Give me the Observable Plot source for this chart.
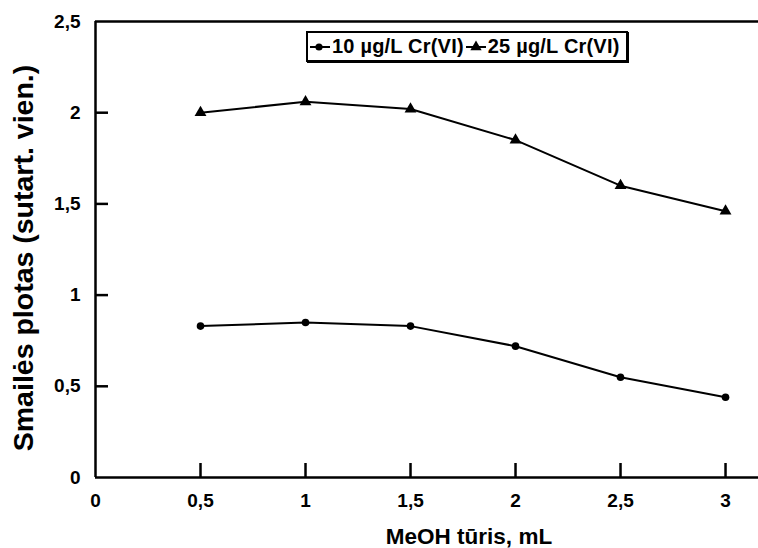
<!DOCTYPE html>
<html>
<head>
<meta charset="utf-8">
<script src="https://cdn.jsdelivr.net/npm/d3@7"></script>
<script src="https://cdn.jsdelivr.net/npm/@observablehq/plot@0.6"></script>
<style>
  html, body { margin: 0; padding: 0; background: #fff; }
  #wrap { position: relative; width: 758px; height: 548px; font-family: "Liberation Sans", Arial, sans-serif; }
  #legend { position: absolute; left: 306px; top: 31px; width: 318px; height: 27px;
            border: 2px solid #000; box-shadow: 1px 1px 0 #000; background: #fff;
            display: flex; align-items: center; font-weight: bold; font-size: 20px; letter-spacing: 0.2px; color: #000; white-space: nowrap; }
  #legend svg { display: block; }
  .ytitle { position: absolute; left: 23px; top: 258px; transform: translate(-50%, -50%) rotate(-90deg);
            font-weight: bold; font-size: 28.5px; white-space: nowrap; }
  .xtitle { position: absolute; left: 469px; top: 537px; transform: translate(-50%, -50%);
            font-weight: bold; font-size: 22.5px; white-space: nowrap; }
</style>
</head>
<body>
<div id="wrap">
  <div id="chart"></div>
  <div id="legend"></div>
  <div class="ytitle">Smailės plotas (sutart. vien.)</div>
  <div class="xtitle">MeOH tūris, mL</div>
</div>
<script>
// Data
const meohVolume = [0.5, 1, 1.5, 2, 2.5, 3];
const cr10 = [0.83, 0.85, 0.83, 0.72, 0.55, 0.44];
const cr25 = [2.00, 2.06, 2.02, 1.85, 1.60, 1.46];
const seriesNames = ["10 µg/L Cr(VI)", "25 µg/L Cr(VI)"];
const xTickValues = [0, 0.5, 1, 1.5, 2, 2.5, 3];
const yTickValues = [0, 0.5, 1, 1.5, 2, 2.5];

const rows10 = meohVolume.map((x, i) => ({x, y: cr10[i]}));
const rows25 = meohVolume.map((x, i) => ({x, y: cr25[i]}));
const fmt = d => String(d).replace(".", ",");
const font = "Liberation Sans, Arial, sans-serif";

const chart = Plot.plot({
  width: 758,
  height: 548,
  marginLeft: 95,
  marginRight: 0,
  marginTop: 21,
  marginBottom: 71,
  style: {fontFamily: font, fontSize: "19px", fontWeight: "bold", background: "#fff", color: "#000"},
  x: {domain: [0, 3.157]},
  y: {domain: [0, 2.5]},
  marks: [
    // inward ticks
    Plot.axisX(xTickValues.slice(1), {tickSize: -14, strokeWidth: 2.5, tickFormat: () => "", label: null}),
    Plot.axisY(yTickValues.slice(1, 5), {tickSize: -13, strokeWidth: 2.5, tickFormat: () => "", label: null}),
    // tick labels
    Plot.axisX(xTickValues, {tickSize: 0, tickPadding: 16, tickFormat: fmt, label: null}),
    Plot.axisY(yTickValues, {tickSize: 0, tickPadding: 15, tickFormat: fmt, label: null}),
    // frame lines (open on the right)
    Plot.ruleX([0], {strokeWidth: 2.5}),
    Plot.ruleY([0, 2.5], {strokeWidth: 2.5}),
    // series
    Plot.line(rows10, {x: "x", y: "y", stroke: "#000", strokeWidth: 2}),
    Plot.dot(rows10, {x: "x", y: "y", r: 3.8, fill: "#000", stroke: null}),
    Plot.line(rows25, {x: "x", y: "y", stroke: "#000", strokeWidth: 2}),
    Plot.dot(rows25, {x: "x", y: "y", r: 4.4, symbol: "triangle", fill: "#000", stroke: null})
  ]
});
document.getElementById("chart").appendChild(chart);

// Legend
const legend = document.getElementById("legend");
const sym = (kind) => {
  const s = d3.create("svg").attr("width", 22).attr("height", 20);
  s.append("line").attr("x1", 2).attr("x2", 22).attr("y1", 10).attr("y2", 10).attr("stroke", "#000").attr("stroke-width", 2);
  if (kind === "circle") s.append("circle").attr("cx", 11).attr("cy", 10).attr("r", 3.6).attr("fill", "#000");
  else s.append("path").attr("transform", "translate(12,10)").attr("d", d3.symbol(d3.symbolTriangle, Math.PI * 4.2 * 4.2)()).attr("fill", "#000");
  return s.node();
};
[["circle", seriesNames[0]], ["triangle", seriesNames[1]]].forEach(([k, name], i) => {
  const item = document.createElement("span");
  item.style.display = "flex";
  item.style.alignItems = "center";
  item.appendChild(sym(k));
  const t = document.createElement("span");
  t.textContent = name;
  t.style.marginLeft = "2px";
  item.appendChild(t);
  legend.appendChild(item);
});
</script>
</body>
</html>
